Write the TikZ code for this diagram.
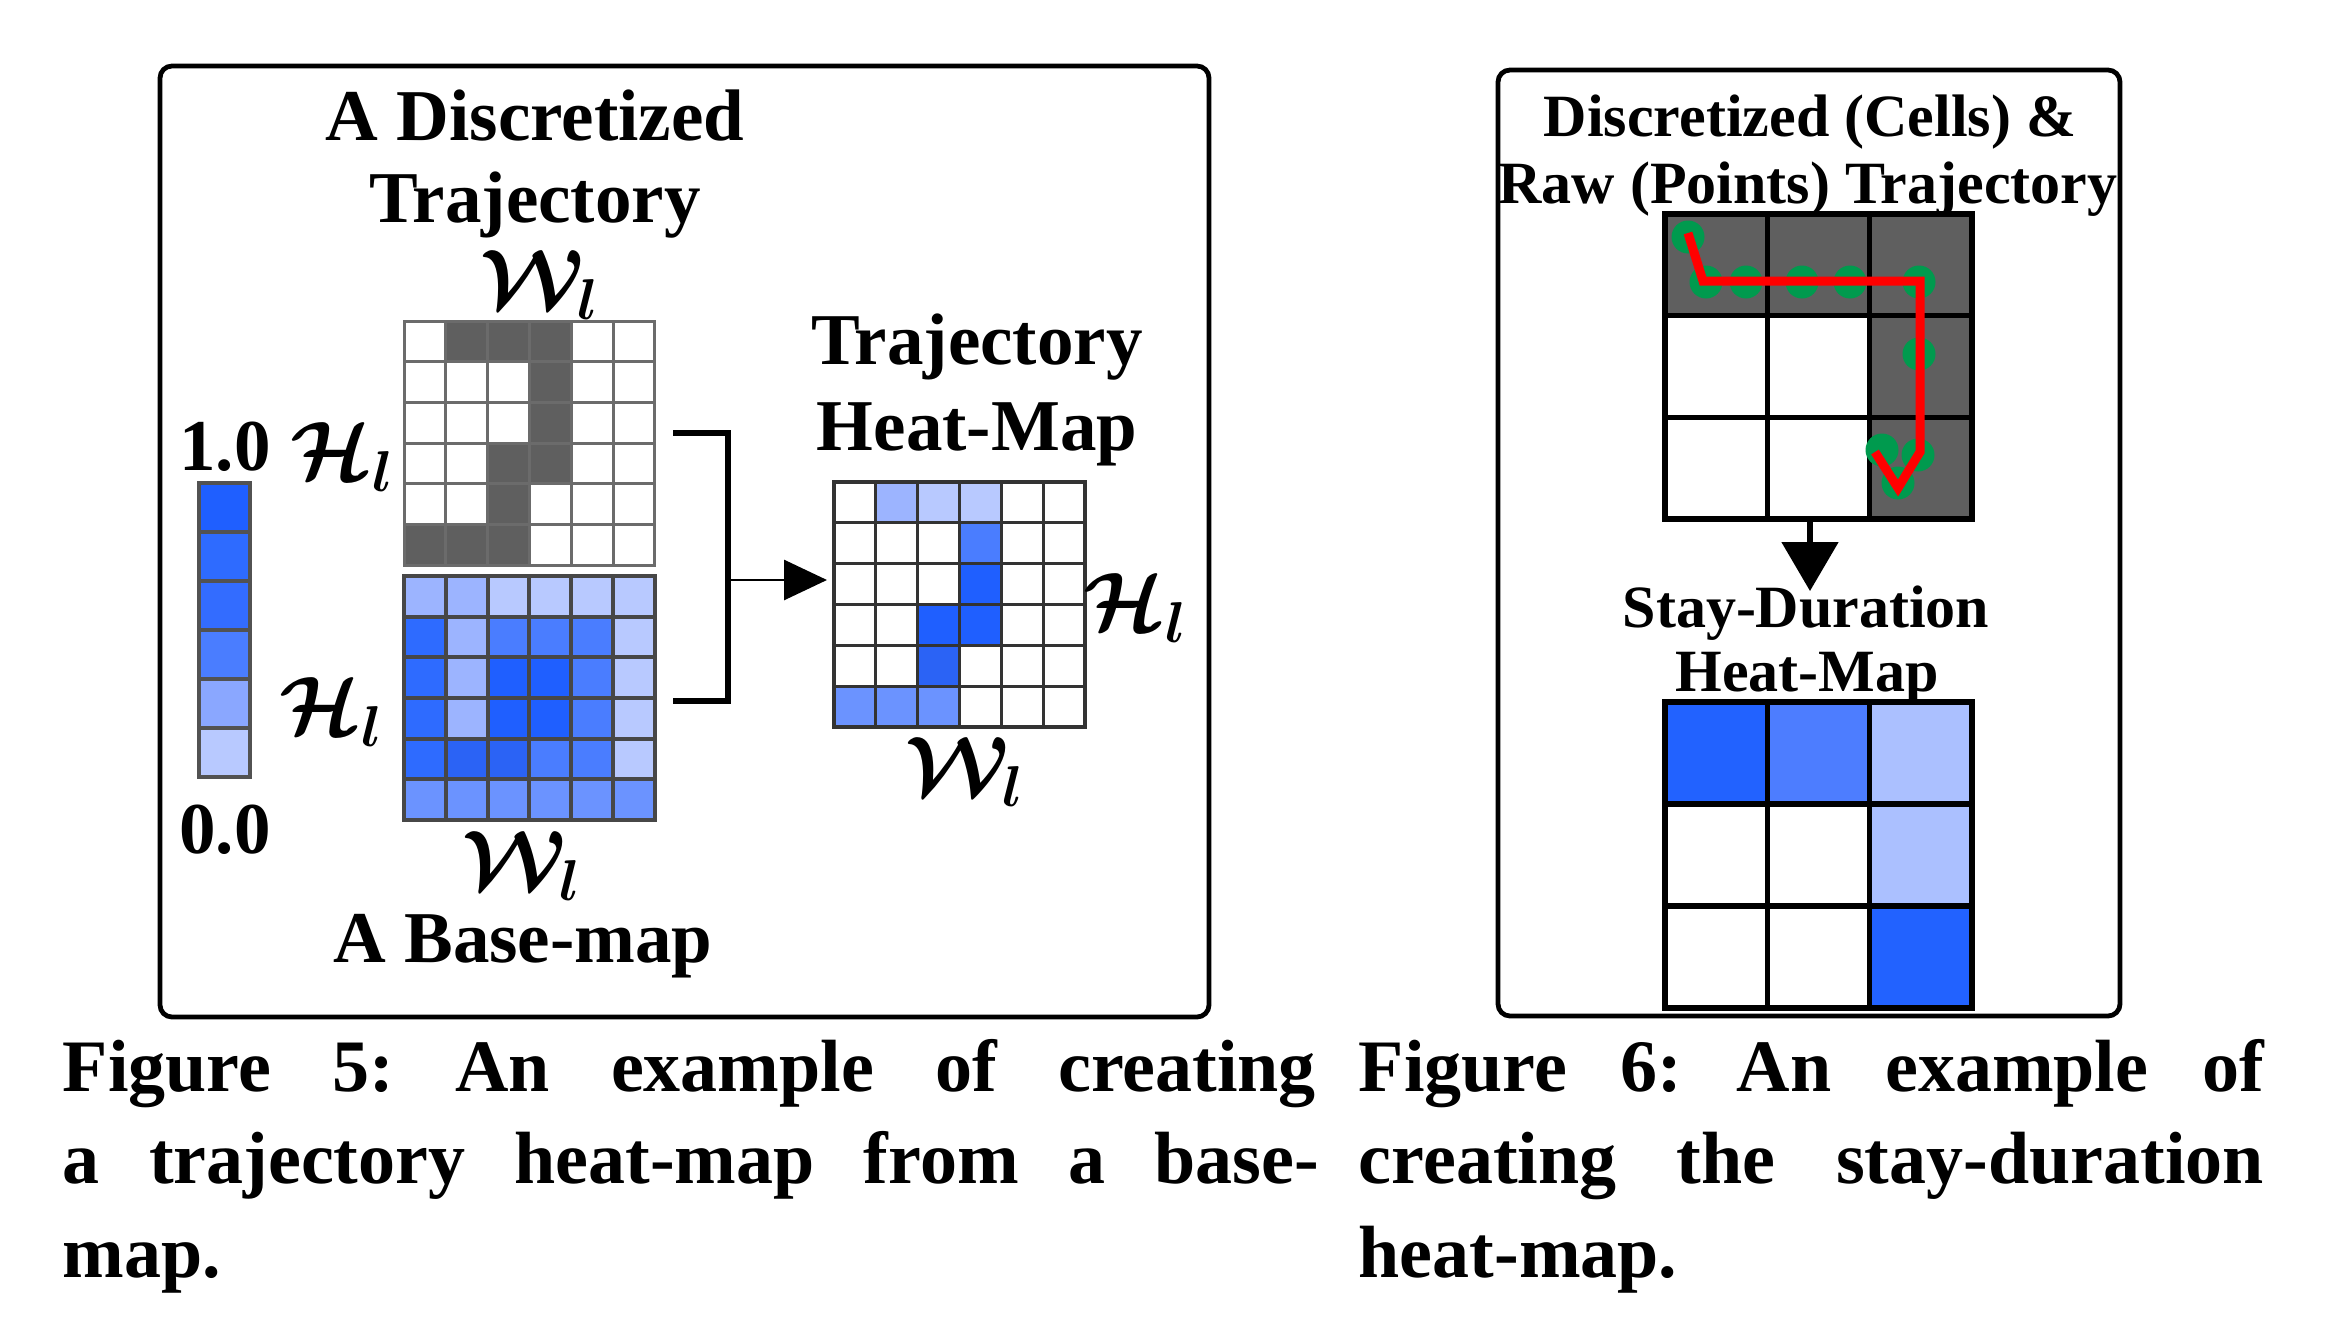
\documentclass[tikz,border=0pt]{standalone}
\usepackage{fontspec}
\setmainfont{Liberation Serif}
\usetikzlibrary{arrows.meta}
\frenchspacing
\definecolor{hA}{HTML}{1F5FFF}
\definecolor{hB}{HTML}{2E6BFF}
\definecolor{hC}{HTML}{2B63F5}
\definecolor{hD}{HTML}{4A7DFF}
\definecolor{hE}{HTML}{6B93FF}
\definecolor{hF}{HTML}{9CB4FF}
\definecolor{hG}{HTML}{B8C9FF}
\definecolor{cbC}{HTML}{336CFF}
\definecolor{cbE}{HTML}{8AA7FF}
\definecolor{sdA}{HTML}{2262FF}
\definecolor{sdB}{HTML}{4D7DFF}
\definecolor{sdC}{HTML}{ABC0FF}
\definecolor{dgray}{HTML}{5F5F5F}
\definecolor{tgreen}{HTML}{009A4E}
\newcommand\mycells[5]{%
  \foreach \rowl [count=\ri from 0] in {#5} {%
    \foreach \cc [count=\ci from 0] in \rowl {%
      \fill[\cc] ({#1+\ci*#3},{#2+\ri*#4}) rectangle ++(#3,#4);
    }%
  }%
}
\newcommand\mylines[7]{%
  \foreach \k in {0,...,#5} {\draw[#7] ({#1+\k*#3},#2) -- ++(0,{#6*#4});}%
  \foreach \k in {0,...,#6} {\draw[#7] (#1,{#2+\k*#4}) -- ++({#5*#3},0);}%
}
\begin{document}
\begin{tikzpicture}[x=0.25pt,y=-0.25pt,
  panel/.style={draw=black,line width=1.2pt,rounded corners=3pt},
  gridnode/.style={inner sep=0pt,outer sep=0pt,minimum width=62.75pt,minimum height=61pt},
  bignode/.style={inner sep=0pt,outer sep=0pt,minimum width=76.75pt,minimum height=76.5pt},
  lbl/.style={font=\fontsize{18.25pt}{20pt}\selectfont\bfseries,inner sep=0pt,anchor=base},
  rlbl/.style={font=\fontsize{15pt}{17pt}\selectfont\bfseries,inner sep=0pt,anchor=base},
  mlbl/.style={font=\fontsize{20pt}{22pt}\selectfont\boldmath,inner sep=0pt,text height=12pt,text depth=1pt},
  captxt/.style={font=\fontsize{18.5pt}{22pt}\selectfont\bfseries,inner sep=0pt,anchor=base west},
  brk/.style={line width=1.5pt,line cap=rect},
  arr/.style={line width=0.7pt,-{Triangle[length=10.75pt,width=10pt]}},
  darr/.style={line width=1.3pt,-{Triangle[length=12.25pt,width=14pt]}},
  dgl/.style={draw=black!58,line width=0.75pt,line cap=rect},
  bgl/.style={draw=black!72,line width=1pt,line cap=rect},
  hgl/.style={draw=black!80,line width=0.8pt,line cap=rect},
  rgl/.style={draw=black,line width=1.4pt,line cap=rect},
  gdot/.style={fill=tgreen,circle,inner sep=0pt,minimum size=8.25pt}
]
\useasboundingbox (0,0) rectangle (2327,1317);

% panels
\draw[panel] (160,66) rectangle (1209,1017);
\draw[panel] (1498,70) rectangle (2120,1016);

% ---------- Figure 5 ----------
\node[lbl] (t5a) at (535,140) {A Discretized};
\node[lbl] (t5b) at (535,223) {Trajectory};

% discretized trajectory grid
\node[gridnode] (disc) at (529.5,443) {};
\mycells{404}{321}{41.83}{40.67}{{white,dgray,dgray,dgray,white,white},{white,white,white,dgray,white,white},{white,white,white,dgray,white,white},{white,white,dgray,dgray,white,white},{white,white,dgray,white,white,white},{dgray,dgray,dgray,white,white,white}}
\mylines{404}{321}{41.83}{40.67}{6}{6}{dgl}

% base map grid
\node[gridnode] (base) at (529.5,698) {};
\mycells{404}{576}{41.83}{40.67}{{hF,hF,hG,hG,hG,hG},{hB,hF,hD,hD,hD,hG},{hB,hF,hA,hA,hD,hG},{hB,hF,hA,hA,hD,hG},{hB,hC,hC,hD,hD,hG},{hE,hE,hE,hE,hE,hE}}
\mylines{404}{576}{41.83}{40.67}{6}{6}{bgl}

% trajectory heat map grid
\node[gridnode] (heat) at (959.5,604.5) {};
\mycells{834}{482}{41.83}{40.83}{{white,hF,hG,hG,white,white},{white,white,white,hD,white,white},{white,white,white,hA,white,white},{white,white,hA,hA,white,white},{white,white,hC,white,white,white},{hE,hE,hE,white,white,white}}
\mylines{834}{482}{41.83}{40.83}{6}{6}{hgl}

% colour bar
\node[inner sep=0pt,outer sep=0pt,minimum width=12.75pt,minimum height=73.5pt] (cbar) at (224.5,630) {};
\mycells{199}{483}{51}{49}{{hA},{hB},{cbC},{hD},{cbE},{hG}}
\mylines{199}{483}{51}{49}{1}{6}{draw=black!68,line width=1pt,line cap=rect}
\node[lbl] (c1) at (225,470) {1.0};
\node[lbl] (c0) at (225,853) {0.0};

% math labels
\node[mlbl] (w1) at (540,285) {$\mathcal{W}_l$};
\node[mlbl] (h1) at (343,457) {$\mathcal{H}_l$};
\node[mlbl] (h2) at (332,712) {$\mathcal{H}_l$};
\node[mlbl] (w2) at (522,866) {$\mathcal{W}_l$};
\node[mlbl] (h3) at (1136,608) {$\mathcal{H}_l$};
\node[mlbl] (w3) at (965,772) {$\mathcal{W}_l$};

\node[lbl] (bm) at (523,962) {A Base-map};
\node[lbl] (th1) at (977,364) {Trajectory};
\node[lbl] (th2) at (977,450) {Heat-Map};

% bracket and arrow
\coordinate (bt0) at (676,433);
\coordinate (btr) at (728,433);
\coordinate (bb0) at (676,701);
\coordinate (bbr) at (728,701);
\coordinate (bm0) at (728,580);
\draw[brk] (bt0) -- (btr) -- (bbr) -- (bb0);
\draw[arr,shorten >=1.75pt] (bm0) -- (heat.west |- bm0);

% ---------- Figure 6 ----------
\node[rlbl] (t6a) at (1810,137) {Discretized (Cells) \&};
\node[rlbl] (t6b) at (1808,203) {Raw (Points) Trajectory};

\node[bignode] (rtop) at (1818.5,366.5) {};
\mycells{1665}{214}{102.33}{101.67}{{dgray,dgray,dgray},{white,white,dgray},{white,white,dgray}}
\mylines{1665}{214}{102.33}{101.67}{3}{3}{rgl}

\node[gdot] (p1) at (1688,237) {};
\node[gdot] (p2) at (1706,282) {};
\node[gdot] (p3) at (1746,282) {};
\node[gdot] (p4) at (1802,282) {};
\node[gdot] (p5) at (1850,282) {};
\node[gdot] (p6) at (1919,282) {};
\node[gdot] (p7) at (1919,354) {};
\node[gdot] (p8) at (1882,450) {};
\node[gdot] (p9) at (1918,455) {};
\node[gdot] (p10) at (1898,483) {};
\draw[red,line width=2.25pt,miter limit=10] (1688,233) -- (1703,281) -- (1920,281) -- (1920,452) -- (1898,488) -- (1875,452);

\coordinate (dtip) at (1810,591);
\draw[darr] (rtop.south -| dtip) -- (dtip);

\node[rlbl] (sd1) at (1806,627) {Stay-Duration};
\node[rlbl] (sd2) at (1807,691) {Heat-Map};

\node[bignode] (rbot) at (1818.5,855) {};
\mycells{1665}{702}{102.33}{102}{{sdA,sdB,sdC},{white,white,sdC},{white,white,sdA}}
\mylines{1665}{702}{102.33}{102}{3}{3}{rgl}

% ---------- captions ----------
\node[captxt] (c5a) at (62,1091) {\makebox[313.25pt][s]{Figure 5: An example of creating}};
\node[captxt] (c5b) at (62,1183) {\makebox[314pt][s]{a trajectory heat-map from a base-}};
\node[captxt] (c5c) at (62,1277) {map.};
\node[captxt] (c6a) at (1358,1091) {\makebox[226.25pt][s]{Figure 6: An example of}};
\node[captxt] (c6b) at (1358,1183) {\makebox[226.25pt][s]{creating the stay-duration}};
\node[captxt] (c6c) at (1358,1277) {heat-map.};
\end{tikzpicture}
\end{document}
